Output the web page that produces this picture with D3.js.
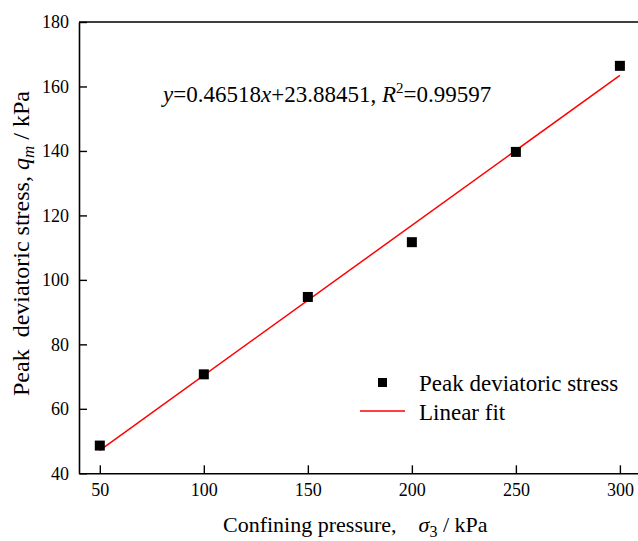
<!DOCTYPE html>
<html>
<head>
<meta charset="utf-8">
<script src="https://cdn.jsdelivr.net/npm/d3@7"></script>
<style>
  html, body { margin: 0; padding: 0; background: #fff; }
  svg { display: block; }
  text { font-family: "Liberation Serif", "Times New Roman", serif; fill: #000; }
</style>
</head>
<body>
<svg id="chart" width="638" height="541"></svg>
<script>
// Confining pressure (kPa) and measured peak deviatoric stress (kPa)
const confiningPressure = [50, 100, 150, 200, 250, 300];
const peakStress = [48.6, 70.7, 94.7, 111.7, 139.7, 166.4];

// Linear fit coefficients
const fitSlope = 0.46518;
const fitIntercept = 23.88451;
const fitR2 = 0.99597;

const xTicks = [50, 100, 150, 200, 250, 300];
const yTicks = [40, 60, 80, 100, 120, 140, 160, 180];

const serif = '"Liberation Serif", "Times New Roman", serif';
const svg = d3.select("#chart");

const plotLeft = 79, plotRight = 640.7, plotTop = 22, plotBottom = 473.3;
const x = d3.scaleLinear().domain([40, 310]).range([plotLeft, plotRight]);
const y = d3.scaleLinear().domain([40, 180]).range([plotBottom, plotTop]);

// Frame (top and right edges)
svg.append("path")
  .attr("d", `M${plotLeft},${plotTop}H${plotRight}V${plotBottom}`)
  .attr("fill", "none").attr("stroke", "#000").attr("stroke-width", 1.6);

const xAxis = svg.append("g")
  .attr("transform", `translate(0,${plotBottom})`)
  .call(d3.axisBottom(x).tickValues(xTicks).tickSizeInner(-8).tickSizeOuter(0).tickPadding(10));
const yAxis = svg.append("g")
  .attr("transform", `translate(${plotLeft},0)`)
  .call(d3.axisLeft(y).tickValues(yTicks).tickSizeInner(-8).tickSizeOuter(0).tickPadding(10));

[xAxis, yAxis].forEach(g => {
  g.attr("font-family", serif);
  g.select(".domain").attr("stroke", "#000").attr("stroke-width", 1.6);
  g.selectAll(".tick line").attr("stroke", "#000").attr("stroke-width", 1.4);
  g.selectAll(".tick text")
    .style("font-family", serif)
    .attr("font-size", 18).attr("fill", "#000");
});

// Fit line
const fitX = [d3.min(confiningPressure), d3.max(confiningPressure)];
svg.append("line")
  .attr("x1", x(fitX[0])).attr("y1", y(fitSlope * fitX[0] + fitIntercept))
  .attr("x2", x(fitX[1])).attr("y2", y(fitSlope * fitX[1] + fitIntercept))
  .attr("stroke", "#ff0000").attr("stroke-width", 1.5);

// Measured points
const ms = 10;
svg.append("g").selectAll("rect")
  .data(confiningPressure.map((c, i) => [c, peakStress[i]]))
  .join("rect")
  .attr("x", d => x(d[0]) - ms / 2)
  .attr("y", d => y(d[1]) - ms / 2)
  .attr("width", ms).attr("height", ms)
  .attr("fill", "#000");

// Fit equation
const eq = svg.append("text").attr("x", 163).attr("y", 102).attr("font-size", 23);
eq.append("tspan").attr("font-style", "italic").text("y");
eq.append("tspan").text("=" + fitSlope.toFixed(5));
eq.append("tspan").attr("font-style", "italic").text("x");
eq.append("tspan").text("+" + fitIntercept.toFixed(5) + ", ");
eq.append("tspan").attr("font-style", "italic").text("R");
eq.append("tspan").attr("font-size", 15).attr("dy", -9).text("2");
eq.append("tspan").attr("dy", 9).text("=" + fitR2.toFixed(5));

// Legend
svg.append("rect").attr("x", 378).attr("y", 378).attr("width", 9).attr("height", 9).attr("fill", "#000");
svg.append("text").attr("x", 419).attr("y", 391).attr("font-size", 23).text("Peak deviatoric stress");
svg.append("line").attr("x1", 360).attr("x2", 405).attr("y1", 411).attr("y2", 411)
  .attr("stroke", "#ff0000").attr("stroke-width", 1.5);
svg.append("text").attr("x", 419).attr("y", 420).attr("font-size", 23).text("Linear fit");

// X axis title
const xt = svg.append("text").attr("x", 223).attr("y", 532).attr("font-size", 22);
xt.append("tspan").text("Confining pressure,");
xt.append("tspan").attr("dx", 22).attr("font-style", "italic").text("σ");
xt.append("tspan").attr("font-size", 16).attr("dy", 5).text("3");
xt.append("tspan").attr("dy", -5).text(" / kPa");

// Y axis title
const yt = svg.append("text").attr("transform", "translate(29,396) rotate(-90)").attr("font-size", 24)
  .attr("xml:space", "preserve");
yt.append("tspan").text("Peak  deviatoric stress, ");
yt.append("tspan").attr("font-style", "italic").text("q");
yt.append("tspan").attr("font-style", "italic").attr("font-size", 17).attr("dy", 5).text("m");
yt.append("tspan").attr("dy", -5).text(" / kPa");
</script>
</body>
</html>
